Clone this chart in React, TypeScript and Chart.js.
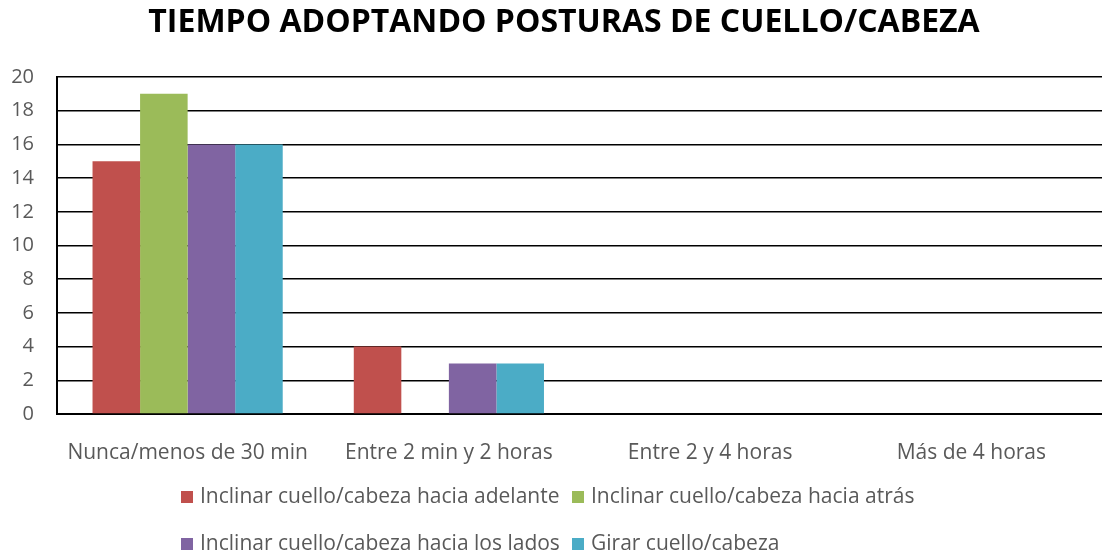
import React, { useEffect, useRef } from "react";
import { Chart, registerables } from "chart.js";

Chart.register(...registerables);

const TITLE = "TIEMPO ADOPTANDO POSTURAS DE CUELLO/CABEZA";
const categories = ["Nunca/menos de 30 min", "Entre 2 min y 2 horas", "Entre 2 y 4 horas", "Más de 4 horas"];
const seriesNames = [
  "Inclinar cuello/cabeza hacia adelante",
  "Inclinar cuello/cabeza hacia atrás",
  "Inclinar cuello/cabeza hacia los lados",
  "Girar cuello/cabeza",
];
const adelante = [15, 4, 0, 0];
const atras = [19, 0, 0, 0];
const lados = [16, 3, 0, 0];
const girar = [16, 3, 0, 0];
const colors = ["#C0504D", "#9BBB59", "#8064A2", "#4BACC6"];
const yMin = 0;
const yMax = 20;
const yStep = 2;

const FONT = "'Open Sans', 'Liberation Sans', sans-serif";
const TEXT = "#595959";

const customPlugin = {
  id: "customTitleLegend",
  afterDraw(chart: any) {
    const ctx = chart.ctx;
    ctx.save();
    ctx.fillStyle = "#000";
    ctx.font = `bold 32px ${FONT}`;
    ctx.textAlign = "center";
    ctx.textBaseline = "middle";
    ctx.fillText(TITLE, 564, 23);

    ctx.font = `21px ${FONT}`;
    ctx.textAlign = "left";
    const cols = [181, 572];
    const rows = [497, 544];
    chart.data.datasets.forEach((ds: any, i: number) => {
      const x = cols[i % 2];
      const y = rows[Math.floor(i / 2)];
      ctx.fillStyle = ds.backgroundColor;
      ctx.fillRect(x, y - 6, 12, 12);
      ctx.fillStyle = TEXT;
      ctx.fillText(ds.label, x + 19, y);
    });
    ctx.restore();
  },
};

export default function App() {
  const ref = useRef<HTMLCanvasElement>(null);
  useEffect(() => {
    document.body.style.margin = "0";
    const data = [adelante, atras, lados, girar];
    const chart = new Chart(ref.current!, {
      type: "bar",
      data: {
        labels: categories,
        datasets: seriesNames.map((n, i) => ({
          label: n,
          data: data[i],
          backgroundColor: colors[i],
          borderWidth: 0,
          barPercentage: 1,
          categoryPercentage: 0.728,
        })),
      },
      options: {
        animation: false,
        responsive: false,
        layout: { padding: { top: 77, right: 0, bottom: 93, left: 0 } },
        plugins: {
          legend: { display: false },
          title: { display: false },
          tooltip: { enabled: false },
        },
        scales: {
          x: {
            grid: { display: false },
            border: { color: "#000", width: 2 },
            ticks: { color: TEXT, font: { family: FONT, size: 21 }, padding: 18, maxRotation: 0 },
            afterFit(scale: any) {
              scale.height = 50;
            },
          },
          y: {
            min: yMin,
            max: yMax,
            ticks: { stepSize: yStep, color: TEXT, font: { family: FONT, size: 20 }, padding: 23 },
            grid: { color: "#000", lineWidth: 1.6, drawTicks: false },
            border: { color: "#000", width: 2 },
            afterFit(scale: any) {
              scale.width = 57;
            },
          },
        },
      },
      plugins: [customPlugin],
    });
    return () => chart.destroy();
  }, []);
  return <canvas ref={ref} width={1102} height={557} style={{ display: "block" }} />;
}
